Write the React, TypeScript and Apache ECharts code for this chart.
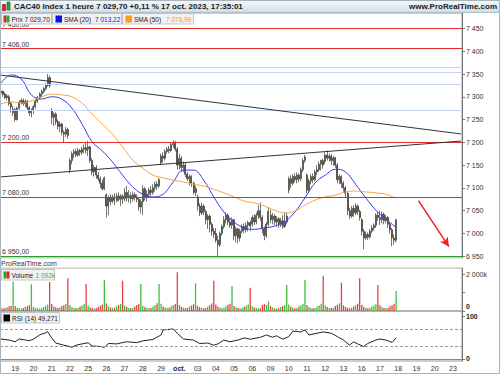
import React, { useEffect, useRef } from 'react';
import * as echarts from 'echarts';

const FONT = "'Liberation Sans', Arial, sans-serif";

const dayLabels = ['18', '19', '20', '21', '22', '25', '26', '27', '28', '29', 'oct.', '03', '04', '05', '06', '09', '10', '11', '12', '13', '16', '17', '18', '19', '20', '23'];
const barsInDay = [7, 9, 9, 9, 9, 9, 9, 9, 9, 9, 9, 9, 9, 9, 9, 9, 9, 9, 9, 9, 9, 9, 9, 9, 9, 5];

// [open, close, low, high]
const ohlc: number[][] = [
  [7308, 7312, 7303, 7316], [7312, 7305, 7300, 7314], [7306, 7298, 7295, 7310], [7298, 7302, 7292, 7306], [7300, 7285, 7280, 7304], [7285, 7278, 7265, 7290], [7265, 7272, 7258, 7280],
  [7272, 7250, 7245, 7275], [7250, 7275, 7248, 7278], [7275, 7288, 7272, 7292], [7288, 7292, 7283, 7297], [7292, 7285, 7280, 7296], [7285, 7290, 7278, 7294], [7290, 7276, 7270, 7293], [7276, 7265, 7258, 7280], [7265, 7270, 7255, 7275],
  [7270, 7278, 7262, 7282], [7278, 7290, 7274, 7294], [7290, 7298, 7286, 7302], [7298, 7306, 7294, 7310], [7306, 7312, 7300, 7316], [7312, 7318, 7308, 7322], [7318, 7325, 7314, 7330], [7325, 7342, 7322, 7350], [7342, 7325, 7320, 7347],
  [7270, 7255, 7240, 7275], [7255, 7262, 7236, 7266], [7262, 7245, 7238, 7266], [7245, 7235, 7228, 7250], [7235, 7240, 7222, 7246], [7240, 7222, 7215, 7243], [7222, 7218, 7200, 7226], [7218, 7228, 7212, 7234], [7228, 7215, 7208, 7232],
  [7140, 7160, 7132, 7165], [7160, 7175, 7152, 7180], [7175, 7180, 7165, 7185], [7180, 7172, 7168, 7186], [7172, 7182, 7168, 7188], [7182, 7178, 7170, 7186], [7178, 7185, 7172, 7190], [7185, 7188, 7176, 7195], [7188, 7182, 7175, 7200],
  [7185, 7190, 7170, 7203], [7190, 7160, 7155, 7193], [7160, 7135, 7128, 7165], [7135, 7145, 7125, 7150], [7145, 7128, 7120, 7150], [7128, 7120, 7115, 7135], [7120, 7110, 7100, 7125], [7110, 7098, 7094, 7118], [7098, 7122, 7095, 7125],
  [7085, 7060, 7035, 7088], [7060, 7078, 7040, 7084], [7078, 7070, 7062, 7086], [7070, 7080, 7066, 7085], [7080, 7072, 7062, 7088], [7072, 7082, 7068, 7088], [7082, 7075, 7070, 7090], [7075, 7082, 7060, 7086], [7082, 7076, 7065, 7086],
  [7076, 7090, 7070, 7100], [7090, 7078, 7070, 7105], [7078, 7083, 7068, 7095], [7083, 7076, 7065, 7090], [7076, 7085, 7070, 7092], [7085, 7080, 7072, 7090], [7080, 7075, 7068, 7086], [7075, 7058, 7050, 7080], [7058, 7070, 7044, 7075],
  [7070, 7098, 7040, 7106], [7098, 7080, 7072, 7102], [7080, 7086, 7070, 7095], [7086, 7095, 7080, 7100], [7095, 7090, 7082, 7104], [7090, 7100, 7085, 7108], [7100, 7108, 7092, 7114], [7108, 7104, 7095, 7115], [7104, 7118, 7100, 7122],
  [7155, 7170, 7150, 7175], [7170, 7165, 7155, 7178], [7165, 7180, 7160, 7185], [7180, 7185, 7175, 7190], [7185, 7182, 7176, 7192], [7182, 7195, 7178, 7200], [7195, 7198, 7188, 7205], [7198, 7185, 7180, 7203], [7185, 7150, 7140, 7190],
  [7150, 7165, 7140, 7175], [7165, 7145, 7135, 7170], [7145, 7150, 7135, 7158], [7150, 7130, 7124, 7155], [7130, 7120, 7115, 7135], [7120, 7125, 7105, 7130], [7125, 7110, 7102, 7128], [7110, 7090, 7085, 7114], [7090, 7098, 7082, 7104],
  [7080, 7060, 7050, 7085], [7060, 7045, 7038, 7066], [7045, 7060, 7040, 7068], [7060, 7048, 7040, 7064], [7048, 7030, 7020, 7052], [7030, 7038, 7010, 7042], [7038, 7020, 7002, 7042], [7020, 7005, 6995, 7025], [7005, 6998, 6990, 7012],
  [7000, 6985, 6980, 7012], [6985, 6975, 6950, 6995], [6975, 7000, 6970, 7004], [7000, 7015, 6995, 7020], [7015, 7030, 7010, 7038], [7030, 7040, 7022, 7046], [7040, 7025, 7018, 7044], [7025, 7018, 7012, 7035], [7018, 7030, 7010, 7035],
  [7030, 6995, 6985, 7032], [6995, 7010, 6980, 7015], [7010, 6990, 6978, 7012], [6990, 7005, 6982, 7010], [7005, 7015, 7000, 7020], [7015, 7008, 7000, 7022], [7008, 7018, 7002, 7024], [7018, 7024, 7004, 7028], [7024, 7016, 7005, 7028],
  [7020, 7035, 7015, 7040], [7035, 7025, 7018, 7042], [7025, 7040, 7020, 7046], [7040, 7050, 7032, 7062], [7050, 7035, 7028, 7068], [7035, 7010, 7000, 7040], [7010, 6995, 6985, 7015], [6995, 7020, 6990, 7025], [7020, 7048, 7015, 7058],
  [7040, 7030, 7022, 7052], [7030, 7038, 7020, 7045], [7038, 7025, 7018, 7042], [7025, 7032, 7015, 7038], [7032, 7020, 7012, 7036], [7020, 7028, 7014, 7034], [7028, 7015, 7010, 7040], [7015, 7025, 7012, 7045], [7025, 7038, 7020, 7045],
  [7095, 7120, 7088, 7125], [7120, 7110, 7100, 7128], [7110, 7125, 7105, 7130], [7125, 7118, 7112, 7132], [7118, 7128, 7110, 7134], [7128, 7120, 7112, 7132], [7120, 7140, 7115, 7145], [7140, 7160, 7135, 7165], [7160, 7168, 7155, 7172],
  [7128, 7095, 7088, 7132], [7095, 7115, 7090, 7120], [7115, 7125, 7108, 7130], [7125, 7118, 7110, 7132], [7118, 7135, 7114, 7140], [7135, 7140, 7128, 7150], [7140, 7152, 7135, 7158], [7152, 7160, 7138, 7162], [7160, 7150, 7142, 7164],
  [7158, 7172, 7152, 7178], [7172, 7165, 7160, 7182], [7165, 7170, 7158, 7176], [7170, 7160, 7150, 7174], [7160, 7166, 7148, 7170], [7166, 7150, 7144, 7168], [7150, 7118, 7110, 7155], [7118, 7125, 7108, 7130], [7125, 7110, 7100, 7128],
  [7110, 7100, 7092, 7115], [7100, 7088, 7080, 7104], [7088, 7050, 7040, 7092], [7050, 7038, 7032, 7056], [7038, 7055, 7034, 7060], [7055, 7045, 7036, 7062], [7045, 7060, 7040, 7066], [7060, 7048, 7040, 7064], [7048, 7035, 7028, 7052],
  [7030, 7005, 6995, 7034], [7005, 6990, 6965, 7010], [6990, 6998, 6985, 7004], [6998, 6992, 6986, 7002], [6992, 7005, 6988, 7010], [7005, 7012, 7000, 7018], [7012, 7018, 7006, 7022], [7018, 7040, 7012, 7044], [7040, 7035, 7028, 7048],
  [7035, 7030, 7018, 7050], [7030, 7042, 7022, 7048], [7042, 7028, 7020, 7046], [7028, 7035, 7022, 7040], [7035, 7020, 7012, 7038], [7020, 7008, 7000, 7025], [7008, 6990, 6972, 7012], [6990, 6985, 6975, 6998], [6985, 7029.7, 6980, 7032],
];

// volume in thousands
const volume: number[] = [
  150, 140, 160, 210, 260, 290, 1600,
  270, 180, 150, 140, 170, 230, 260, 320, 1460,
  230, 170, 150, 130, 160, 220, 280, 350, 1585,
  380, 260, 200, 170, 190, 280, 320, 400, 1790,
  330, 220, 170, 150, 160, 250, 300, 380, 1475,
  300, 210, 160, 140, 170, 230, 290, 360, 1695,
  420, 260, 190, 160, 180, 260, 320, 390, 1655,
  310, 230, 170, 150, 170, 240, 330, 400, 1475,
  280, 220, 160, 150, 170, 250, 310, 420, 1475,
  400, 250, 190, 160, 180, 260, 330, 380, 2115,
  330, 230, 180, 150, 170, 250, 300, 370, 1510,
  290, 210, 170, 150, 160, 240, 320, 410, 1655,
  360, 250, 190, 160, 180, 260, 340, 400, 1365,
  280, 200, 160, 140, 160, 230, 300, 360, 1275,
  260, 190, 150, 140, 150, 340, 380, 330, 520,
  270, 190, 150, 130, 150, 220, 280, 330, 1420,
  360, 240, 180, 150, 170, 250, 310, 380, 1695,
  330, 220, 170, 150, 170, 240, 300, 390, 1930,
  300, 220, 170, 160, 180, 280, 340, 420, 1545,
  310, 230, 180, 150, 170, 250, 320, 400, 1785,
  330, 230, 170, 150, 160, 240, 300, 370, 1420,
  320, 220, 170, 150, 170, 260, 320, 390, 1092,
];

const maBars = [0, 5, 10, 15, 20, 25, 30, 35, 40, 45, 50, 55, 60, 65, 70, 75, 80, 85, 90, 95, 100, 105, 110, 115, 120, 125, 130, 135, 140, 145, 150, 155, 160, 165, 170, 175, 180, 185, 190, 195];
const sma20 = [7330, 7348, 7339, 7304, 7295, 7300, 7295, 7275, 7240, 7201, 7181, 7157, 7128, 7102, 7086, 7080, 7086, 7113, 7139, 7139, 7117, 7080, 7047, 7025, 7012, 7009, 7012, 7016, 7025, 7047, 7078, 7111, 7128, 7141, 7135, 7108, 7078, 7051, 7031, 7013.22];
const sma50 = [7284, 7289, 7286, 7291, 7300, 7306, 7304, 7300, 7286, 7262, 7240, 7218, 7190, 7161, 7143, 7128, 7122, 7117, 7113, 7108, 7104, 7097, 7089, 7080, 7071, 7067, 7060, 7051, 7045, 7049, 7062, 7073, 7080, 7084, 7091, 7093, 7091, 7089, 7086, 7076.96];

const rsiBars = [0, 4, 7, 9, 14, 16, 19, 22, 23, 25, 27, 31, 33, 35, 37, 41, 43, 45, 49, 51, 53, 57, 62, 67, 70, 75, 79, 80, 85, 87, 90, 95, 98, 102, 105, 107, 110, 113, 117, 120, 123, 128, 131, 134, 136, 139, 142, 144, 148, 150, 152, 156, 159, 163, 166, 169, 172, 174, 176, 179, 181, 185, 187, 190, 193, 195];
const rsiValues = [46.5, 44, 40, 46.5, 42.5, 46, 56, 61, 63.7, 49, 37, 32, 30, 27, 32, 36, 37.6, 30, 29, 27, 36, 35, 40, 38, 42, 45.5, 56, 67.6, 70, 60, 46.5, 44, 36, 37, 32, 35, 44, 40, 44, 49, 46, 50.6, 56, 50.6, 54, 46, 52, 65, 63, 67.6, 56, 60, 63, 60, 52, 44, 32, 40, 35, 29, 36, 44, 46.5, 44, 38.6, 49.271];

const redLevels = [7450, 7406, 7200, 7080];
const blueLevels = [7365, 7354, 7328, 7270];
const greenLevel = 6950;
const levelLabels: Record<number, string> = { 7450: '7 450,00', 7406: '7 406,00', 7200: '7 200,00', 7080: '7 080,00', 6950: '6 950,00' };
const trendDown = [[0, 7347.6], [227, 7218.4]];
const trendUp = [[0, 7124.2], [227, 7202.8]];
const arrowPts = [[206, 7072], [221, 6971]];

const lastPrice = 7029.7;
const lastVolume = 1092;
const lastRsi = 49.271;

const title = 'CAC40 Index 1 heure 7 029,70 +0,11 % 17 oct. 2023, 17:35:01';

const fmtNum = (v: number) => String(Math.round(v)).replace(/\B(?=(\d{3})+(?!\d))/g, ' ');

export default function App() {
  const ref = useRef<HTMLDivElement>(null);
  useEffect(() => {
    if (!ref.current) return;
    const chart = echarts.init(ref.current, undefined, { renderer: 'svg' });

    const categories: string[] = [];
    const labelAt: Record<number, string> = {};
    dayLabels.forEach((d, di) => {
      const start = di === 0 ? 11 : 9;
      for (let k = 0; k < barsInDay[di]; k++) {
        if (k === 0 && di > 0) labelAt[categories.length] = d;
        categories.push(`${d}#${di} ${start + k}h`);
      }
    });

    const up = '#22a322';
    const down = '#a31515';
    const volData = volume.map((v, i) => ({
      value: v,
      itemStyle: { color: ohlc[i][1] >= ohlc[i][0] ? '#3cbf3c' : '#e04545' },
    }));

    const lvlLabel = (v: number) => ({
      show: !!levelLabels[v],
      formatter: levelLabels[v] || '',
      position: 'insideStartTop',
      distance: [2, v === 7450 ? 0 : 1],
      fontSize: 7,
      color: '#333',
      fontFamily: FONT,
    });

    const priceMarks: any[] = [];
    redLevels.forEach((v) => priceMarks.push({ yAxis: v, lineStyle: { color: '#e62a2a', width: 1, type: 'solid' }, label: lvlLabel(v) }));
    blueLevels.forEach((v) => priceMarks.push({ yAxis: v, lineStyle: { color: '#c3d3f5', width: 1, type: 'solid' }, label: { show: false } }));
    priceMarks.push({ yAxis: greenLevel, lineStyle: { color: '#2d9a2d', width: 1, type: 'solid' }, label: lvlLabel(greenLevel) });
    priceMarks.push([
      { coord: trendDown[0], lineStyle: { color: '#333', width: 1, type: 'solid' }, label: { show: false } },
      { coord: trendDown[1] },
    ]);
    priceMarks.push([
      { coord: trendUp[0], lineStyle: { color: '#333', width: 1, type: 'solid' }, label: { show: false } },
      { coord: trendUp[1] },
    ]);
    priceMarks.push([
      { coord: arrowPts[0], symbol: 'none', lineStyle: { color: '#f02020', width: 1.5, type: 'solid' }, label: { show: false } },
      { coord: arrowPts[1], symbol: 'arrow', symbolSize: [7, 9] },
    ]);
    priceMarks.push({
      yAxis: lastPrice,
      lineStyle: { opacity: 0 },
      label: {
        show: true, position: 'end', distance: 2, formatter: '7 029,70',
        backgroundColor: '#f7c600', color: '#000', fontWeight: 'bold', fontSize: 8,
        padding: [3, 2, 2, 2], fontFamily: FONT,
      },
    });

    const option: any = {
      animation: false,
      backgroundColor: '#ffffff',
      textStyle: { fontFamily: FONT },
      grid: [
        { left: 0, right: 38, top: 13, bottom: 117, show: true, borderColor: '#9a9a9a', borderWidth: 1, backgroundColor: '#fff' },
        { left: 0, right: 38, top: 268, bottom: 64, show: true, borderColor: '#9a9a9a', borderWidth: 1 },
        { left: 0, right: 38, top: 311, bottom: 14, show: true, borderColor: '#9a9a9a', borderWidth: 1 },
      ],
      xAxis: [0, 1, 2].map((g) => ({
        type: 'category',
        gridIndex: g,
        data: categories,
        boundaryGap: true,
        axisLine: { show: g === 2, lineStyle: { color: '#888' } },
        axisTick: { show: false },
        splitLine: { show: false },
        axisLabel: g === 2 ? {
          show: true,
          interval: (index: number) => labelAt[index] !== undefined,
          formatter: (_v: string, index: number) => {
            const l = labelAt[index] || '';
            return l === 'oct.' ? '{b|oct.}' : l;
          },
          rich: { b: { fontWeight: 'bold', fontSize: 7, color: '#222', fontFamily: FONT } },
          fontSize: 7,
          color: '#333',
          margin: 4,
          fontFamily: FONT,
        } : { show: false },
      })),
      yAxis: [
        {
          type: 'value', gridIndex: 0, position: 'right', min: 6946, max: 7484,
          minInterval: 50, maxInterval: 50,
          splitLine: { show: false },
          axisLine: { show: true, lineStyle: { color: '#777' } },
          axisTick: { show: true, length: 3, lineStyle: { color: '#777' } },
          axisLabel: {
            fontSize: 7, color: '#333', margin: 4, showMinLabel: false, showMaxLabel: false, fontFamily: FONT,
            formatter: (v: number) => (v % 50 === 0 ? fmtNum(v) : ''),
          },
        },
        {
          type: 'value', gridIndex: 1, position: 'right', min: 0, max: 2350, interval: 1000,
          splitLine: { show: false },
          axisLine: { show: true, lineStyle: { color: '#777' } },
          axisTick: { show: true, length: 3, lineStyle: { color: '#777' } },
          axisLabel: {
            fontSize: 7, color: '#333', margin: 4, showMaxLabel: false, fontFamily: FONT,
            formatter: (v: number) => (v === 2000 ? '2 000k' : v === 0 ? '{z|0}' : ''),
            rich: { z: { fontWeight: 'bold', fontSize: 7, color: '#222', padding: [0, 0, 9, 0], fontFamily: FONT } },
          },
        },
        {
          type: 'value', gridIndex: 2, position: 'right', min: -5, max: 112,
          minInterval: 100, maxInterval: 100,
          splitLine: { show: false },
          axisLine: { show: true, lineStyle: { color: '#777' } },
          axisTick: { show: true, length: 3, lineStyle: { color: '#777' } },
          axisLabel: {
            fontSize: 7, color: '#222', fontWeight: 'bold', margin: 4, showMinLabel: false, showMaxLabel: false, fontFamily: FONT,
            formatter: (v: number) => (v === 0 || v === 100 ? String(v) : ''),
          },
        },
      ],
      series: [
        {
          type: 'candlestick',
          xAxisIndex: 0, yAxisIndex: 0,
          data: ohlc,
          barWidth: 1.5,
          itemStyle: { color: up, color0: down, borderColor: '#3a3a3a', borderColor0: '#3a3a3a', borderWidth: 0.7 },
          markLine: { silent: true, symbol: ['none', 'none'], animation: false, data: priceMarks },
          z: 3,
        },
        {
          type: 'line', xAxisIndex: 0, yAxisIndex: 0,
          data: maBars.map((b, i) => [b, sma20[i]]),
          smooth: 0.4, symbol: 'none', lineStyle: { color: '#3a3af0', width: 1 }, z: 4,
        },
        {
          type: 'line', xAxisIndex: 0, yAxisIndex: 0,
          data: maBars.map((b, i) => [b, sma50[i]]),
          smooth: 0.4, symbol: 'none', lineStyle: { color: '#f5a53c', width: 1 }, z: 4,
        },
        {
          type: 'bar', xAxisIndex: 1, yAxisIndex: 1,
          data: volData, barWidth: 1.3,
          markLine: {
            silent: true, symbol: ['none', 'none'], animation: false,
            data: [{
              yAxis: lastVolume, lineStyle: { opacity: 0 },
              label: {
                show: true, position: 'end', distance: 2, formatter: '1 092k', color: '#3cb43c',
                backgroundColor: '#fff', borderColor: '#aaa', borderWidth: 1, fontSize: 7,
                padding: [2, 2, 1, 2], fontFamily: FONT,
              },
            }],
          },
        },
        {
          type: 'line', xAxisIndex: 2, yAxisIndex: 2,
          data: rsiBars.map((b, i) => [b, rsiValues[i]]),
          symbol: 'none', lineStyle: { color: '#222', width: 1 },
          markLine: {
            silent: true, symbol: ['none', 'none'], animation: false,
            data: [
              { yAxis: 70, lineStyle: { color: '#999', type: [3, 2], width: 1 }, label: { show: false } },
              { yAxis: 30, lineStyle: { color: '#999', type: [3, 2], width: 1 }, label: { show: false } },
              {
                yAxis: lastRsi, lineStyle: { opacity: 0 },
                label: {
                  show: true, position: 'end', distance: 2, formatter: '49,271', color: '#111',
                  backgroundColor: '#fff', borderColor: '#aaa', borderWidth: 1, fontSize: 7,
                  padding: [2, 2, 1, 2], fontFamily: FONT,
                },
              },
            ],
          },
        },
      ],
      graphic: [
        {
          type: 'rect', z: 100, shape: { x: 0, y: 0, width: 500, height: 12.5 },
          style: {
            fill: new echarts.graphic.LinearGradient(0, 0, 0, 1, [
              { offset: 0, color: '#f7fafc' }, { offset: 1, color: '#d2dce4' },
            ]),
            stroke: '#b0bcc6', lineWidth: 1,
          },
        },
        { type: 'rect', z: 101, shape: { x: 2.5, y: 4.5, width: 3, height: 6 }, style: { fill: '#d42a2a', stroke: '#7a1010', lineWidth: 0.6 } },
        { type: 'rect', z: 101, shape: { x: 7, y: 2, width: 3, height: 8 }, style: { fill: '#2aa82a', stroke: '#106010', lineWidth: 0.6 } },
        { type: 'text', z: 101, x: 14, y: 6.5, style: { text: title, fontSize: 8, fontWeight: 'bold', fill: '#1a1a1a', verticalAlign: 'middle', fontFamily: FONT } },
        { type: 'text', z: 101, x: 497, y: 6.5, style: { text: 'www.ProRealTime.com', fontSize: 8, fontWeight: 'bold', fill: '#1a1a1a', align: 'right', verticalAlign: 'middle', fontFamily: FONT } },

        { type: 'rect', z: 100, shape: { x: 1.5, y: 13.5, width: 50, height: 10.5 }, style: { fill: '#f1f1f1', stroke: '#c4c4c4', lineWidth: 1 } },
        { type: 'rect', z: 101, shape: { x: 3.5, y: 15.5, width: 3, height: 7 }, style: { fill: '#d42a2a' } },
        { type: 'rect', z: 101, shape: { x: 6.5, y: 15.5, width: 3, height: 7 }, style: { fill: '#2aa82a' } },
        { type: 'text', z: 101, x: 11.5, y: 19, style: { text: 'Prix 7 029,70', fontSize: 6.5, fill: '#1a1a1a', verticalAlign: 'middle', fontFamily: FONT } },

        { type: 'rect', z: 100, shape: { x: 52.5, y: 13.5, width: 69, height: 10.5 }, style: { fill: '#f1f1f1', stroke: '#c4c4c4', lineWidth: 1 } },
        { type: 'rect', z: 101, shape: { x: 55.5, y: 15.5, width: 6.5, height: 7 }, style: { fill: '#1010f0' } },
        { type: 'text', z: 101, x: 64, y: 19, style: { text: 'SMA (20)', fontSize: 6.5, fill: '#1a1a1a', verticalAlign: 'middle', fontFamily: FONT } },
        { type: 'text', z: 101, x: 95, y: 19, style: { text: '7 013,22', fontSize: 6.5, fill: '#2020f0', verticalAlign: 'middle', fontFamily: FONT } },

        { type: 'rect', z: 100, shape: { x: 122.5, y: 13.5, width: 71, height: 10.5 }, style: { fill: '#f1f1f1', stroke: '#c4c4c4', lineWidth: 1 } },
        { type: 'rect', z: 101, shape: { x: 125.5, y: 15.5, width: 6.5, height: 7 }, style: { fill: '#ff9a1a' } },
        { type: 'text', z: 101, x: 134, y: 19, style: { text: 'SMA (50)', fontSize: 6.5, fill: '#1a1a1a', verticalAlign: 'middle', fontFamily: FONT } },
        { type: 'text', z: 101, x: 166, y: 19, style: { text: '7 076,96', fontSize: 6.5, fill: '#f59a30', verticalAlign: 'middle', fontFamily: FONT } },

        { type: 'rect', z: 90, shape: { x: 0, y: 258.5, width: 462, height: 9 }, style: { fill: '#fff' } },
        { type: 'text', z: 101, x: 1, y: 263.5, style: { text: 'ProRealTime.com', fontSize: 7, fill: '#333', verticalAlign: 'middle', fontFamily: FONT } },

        { type: 'rect', z: 100, shape: { x: 1.5, y: 269.5, width: 53, height: 10.5 }, style: { fill: '#f1f1f1', stroke: '#c4c4c4', lineWidth: 1 } },
        { type: 'rect', z: 101, shape: { x: 3.5, y: 271.5, width: 3, height: 7 }, style: { fill: '#2aa82a' } },
        { type: 'rect', z: 101, shape: { x: 6.5, y: 271.5, width: 3, height: 7 }, style: { fill: '#d42a2a' } },
        { type: 'text', z: 101, x: 11.5, y: 275, style: { text: 'Volume', fontSize: 6.5, fill: '#1a1a1a', verticalAlign: 'middle', fontFamily: FONT } },
        { type: 'text', z: 101, x: 35.5, y: 275, style: { text: '1 092k', fontSize: 6.5, fill: '#3cb43c', verticalAlign: 'middle', fontFamily: FONT } },

        { type: 'rect', z: 100, shape: { x: 1.5, y: 312.5, width: 58, height: 10.5 }, style: { fill: '#f1f1f1', stroke: '#c4c4c4', lineWidth: 1 } },
        { type: 'rect', z: 101, shape: { x: 3.5, y: 314.5, width: 6.5, height: 7 }, style: { fill: '#000' } },
        { type: 'text', z: 101, x: 12, y: 318, style: { text: 'RSI (14) 49,271', fontSize: 6.5, fill: '#1a1a1a', verticalAlign: 'middle', fontFamily: FONT } },

        { type: 'rect', z: 102, shape: { x: 0.5, y: 0.5, width: 499, height: 373 }, style: { fill: 'none', stroke: '#a7b3bd', lineWidth: 1 } },
      ],
    };

    chart.setOption(option);
    return () => chart.dispose();
  }, []);

  return <div ref={ref} style={{ position: 'fixed', left: 0, top: 0, width: 500, height: 375 }} />;
}
